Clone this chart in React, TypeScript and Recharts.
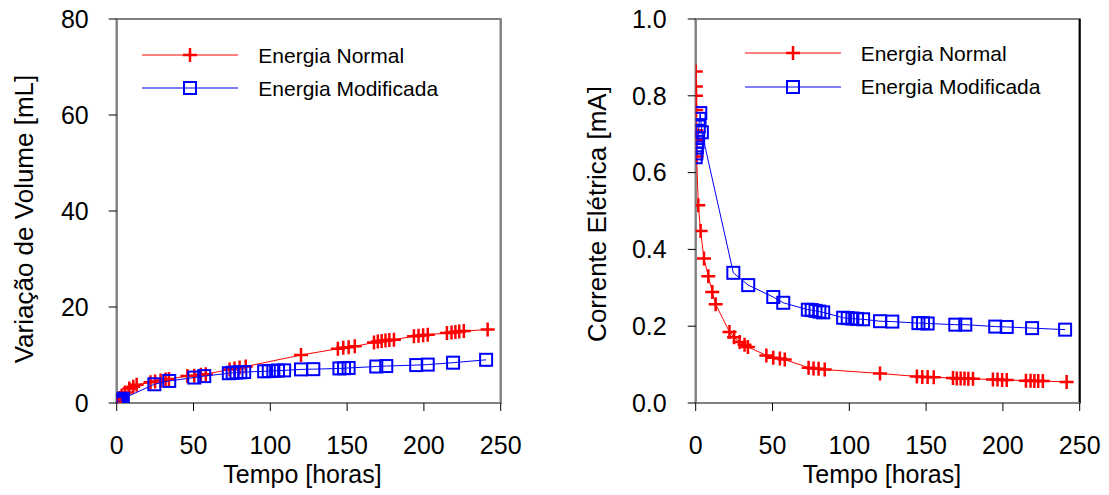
import React from "react";
import {
  ScatterChart,
  Scatter,
  XAxis,
  YAxis,
  ReferenceArea,
  ReferenceLine,
} from "recharts";

// ---- Data ----
const normalTime = [
  0, 0.1, 0.2, 0.3, 0.4, 0.5, 0.6, 1.7, 3.2, 5.4, 8.2, 10.8, 13, 22, 25, 28.6,
  31.8, 34, 46, 50.5, 54.8, 58, 73.5, 76.7, 80, 84, 120, 144, 147.5, 151, 155,
  167.5, 170, 172.5, 175, 177.5, 180.5, 193.5, 196.5, 199.5, 202.5, 215, 218,
  220.5, 223, 226, 241.5,
];
const normalVolume = [
  0, 0.1, 0.2, 0.3, 0.4, 0.5, 0.6, 1.0, 1.5, 2.2, 3.0, 3.4, 3.8, 4.3, 4.5, 4.7,
  4.9, 5.0, 5.6, 5.7, 5.9, 6.0, 7.0, 7.2, 7.4, 7.6, 10.0, 11.3, 11.5, 11.6,
  11.8, 12.6, 12.8, 12.9, 13.0, 13.1, 13.2, 13.9, 14.0, 14.1, 14.2, 14.6, 14.7,
  14.8, 14.9, 15.0, 15.3,
];
const normalCurrent = [
  0.863, 0.824, 0.8, 0.763, 0.71, 0.685, 0.642, 0.515, 0.448, 0.376, 0.33,
  0.289, 0.257, 0.185, 0.171, 0.159, 0.152, 0.146, 0.124, 0.118, 0.116, 0.113,
  0.092, 0.09, 0.089, 0.087, 0.077, 0.069, 0.068, 0.068, 0.067, 0.065, 0.064,
  0.064, 0.064, 0.063, 0.063, 0.061, 0.061, 0.06, 0.06, 0.058, 0.058, 0.057,
  0.057, 0.057, 0.055,
];
const modTime = [
  0, 0.4, 0.8, 1.2, 1.6, 2, 2.5, 3, 4, 24.5, 34.2, 50.5, 57, 73, 75.5, 78, 80.5,
  83, 96, 99, 102, 105, 109, 120, 128, 145, 148, 151, 169, 175.5, 195, 202.5,
  219, 240.5,
];
const modVolume = [
  0, 0.1, 0.2, 0.3, 0.4, 0.5, 0.6, 0.7, 0.9, 3.9, 4.6, 5.3, 5.6, 6.2, 6.3,
  6.35, 6.4, 6.45, 6.6, 6.65, 6.7, 6.75, 6.8, 7.0, 7.05, 7.2, 7.25, 7.3, 7.6,
  7.7, 7.9, 8.0, 8.4, 9.0,
];
const modCurrent = [
  0.64, 0.65, 0.665, 0.68, 0.69, 0.72, 0.74, 0.755, 0.705, 0.339, 0.307, 0.276,
  0.261, 0.243, 0.242, 0.24, 0.238, 0.236, 0.222, 0.221, 0.22, 0.219, 0.218,
  0.213, 0.212, 0.208, 0.208, 0.207, 0.204, 0.204, 0.199, 0.198, 0.195, 0.191,
];

const xTicks = [0, 50, 100, 150, 200, 250];
const volumeTicks = [0, 20, 40, 60, 80];
const currentTicks = [0, 0.2, 0.4, 0.6, 0.8, 1.0];

const seriesNames = ["Energia Normal", "Energia Modificada"];
const xTitle = "Tempo [horas]";
const volumeTitle = "Variação de Volume [mL]";
const currentTitle = "Corrente Elétrica [mA]";

const RED = "#ff0000";
const BLUE = "#0000ff";
const FONT = "'Liberation Sans', Arial, sans-serif";

const toPoints = (xs: number[], ys: number[]) =>
  xs.map((x, i) => ({ x, y: ys[i] }));

const PlusShape = (props: any) => {
  const { cx, cy } = props;
  if (cx == null || cy == null) return null;
  const a = 7;
  return (
    <path
      d={`M${cx - a},${cy}H${cx + a}M${cx},${cy - a}V${cy + a}`}
      stroke={RED}
      strokeWidth={2.5}
      fill="none"
    />
  );
};

const SquareShape = (props: any) => {
  const { cx, cy } = props;
  if (cx == null || cy == null) return null;
  const s = 6;
  return (
    <rect
      x={cx - s}
      y={cy - s}
      width={2 * s}
      height={2 * s}
      stroke={BLUE}
      strokeWidth={2}
      fill="none"
    />
  );
};

const tickStyle = { fill: "#000", fontSize: 25, fontFamily: FONT };

type PanelProps = {
  left: number;
  width: number;
  marginLeft: number;
  marginRight: number;
  yMax: number;
  yTicks: number[];
  yFormat: (v: number) => string;
  normal: { x: number; y: number }[];
  mod: { x: number; y: number }[];
  yTickMargin: number;
  rightBorder: string;
};

const Panel = (p: PanelProps) => (
  <div style={{ position: "absolute", left: p.left, top: 0 }}>
    <ScatterChart
      width={p.width}
      height={495}
      margin={{ top: 19, right: p.marginRight, bottom: 32, left: p.marginLeft }}
    >
      <XAxis
        type="number"
        dataKey="x"
        domain={[0, 250]}
        ticks={xTicks}
        interval={0}
        height={60}
        tickSize={8}
        tickMargin={25}
        tick={tickStyle}
        tickLine={{ stroke: "#000", strokeWidth: 1 }}
        axisLine={{ stroke: "#808080", strokeWidth: 2 }}
        allowDataOverflow
      />
      <YAxis
        type="number"
        dataKey="y"
        domain={[0, p.yMax]}
        ticks={p.yTicks}
        interval={0}
        width={60}
        tickSize={8}
        tickMargin={p.yTickMargin}
        tick={tickStyle}
        tickFormatter={p.yFormat}
        tickLine={{ stroke: "#000", strokeWidth: 1 }}
        axisLine={{ stroke: "#808080", strokeWidth: 2 }}
        allowDataOverflow
      />
      <ReferenceArea
        x1={0}
        x2={250}
        y1={0}
        y2={p.yMax}
        fill="none"
        fillOpacity={0}
        stroke="#808080"
        strokeWidth={2}
        ifOverflow="visible"
      />
      <ReferenceLine
        x={250}
        stroke={p.rightBorder}
        strokeWidth={2}
        ifOverflow="visible"
      />
      <Scatter
        name={seriesNames[0]}
        data={p.normal}
        line={{ stroke: RED, strokeWidth: 1 }}
        lineType="joint"
        shape={PlusShape}
        isAnimationActive={false}
      />
      <Scatter
        name={seriesNames[1]}
        data={p.mod}
        line={{ stroke: BLUE, strokeWidth: 1 }}
        lineType="joint"
        shape={SquareShape}
        isAnimationActive={false}
      />
    </ScatterChart>
  </div>
);

const LegendBlock = ({
  lineLeft,
  textLeft,
  y1,
  y2,
}: {
  lineLeft: number;
  textLeft: number;
  y1: number;
  y2: number;
}) => {
  const w = 96;
  const rows = [
    { y: y1, color: RED, name: seriesNames[0], marker: "plus" },
    { y: y2, color: BLUE, name: seriesNames[1], marker: "square" },
  ];
  return (
    <>
      {rows.map((r) => (
        <React.Fragment key={r.name}>
          <svg
            width={w}
            height={20}
            style={{ position: "absolute", left: lineLeft, top: r.y - 10 }}
          >
            <line x1={0} x2={w} y1={10} y2={10} stroke={r.color} strokeWidth={1} />
            {r.marker === "plus" ? (
              <path
                d={`M${w / 2 - 7},10H${w / 2 + 7}M${w / 2},3V17`}
                stroke={RED}
                strokeWidth={2.5}
              />
            ) : (
              <rect
                x={w / 2 - 6}
                y={4}
                width={12}
                height={12}
                stroke={BLUE}
                strokeWidth={2}
                fill="none"
              />
            )}
          </svg>
          <div
            style={{
              position: "absolute",
              left: textLeft,
              top: r.y - 10.5,
              fontFamily: FONT,
              fontSize: 21,
              lineHeight: "21px",
              whiteSpace: "nowrap",
              color: "#000",
            }}
          >
            {r.name}
          </div>
        </React.Fragment>
      ))}
    </>
  );
};

const titleBase: React.CSSProperties = {
  position: "absolute",
  fontFamily: FONT,
  fontSize: 26,
  lineHeight: "20px",
  whiteSpace: "nowrap",
  color: "#000",
};

const xTitleStyle: React.CSSProperties = {
  ...titleBase,
  fontSize: 25,
  top: 464.2,
  transform: "translateX(-50%)",
};

export default function App() {
  const volNormal = toPoints(normalTime, normalVolume);
  const volMod = toPoints(modTime, modVolume);
  const curNormal = toPoints(normalTime, normalCurrent);
  const curMod = toPoints(modTime, modCurrent);
  return (
    <div
      style={{
        position: "absolute",
        left: 0,
        top: 0,
        width: 1109,
        height: 495,
        background: "#fff",
        overflow: "hidden",
      }}
    >
      <Panel
        left={0}
        width={560}
        marginLeft={56.7}
        marginRight={59.3}
        yMax={80}
        yTicks={volumeTicks}
        yFormat={(v) => String(v)}
        normal={volNormal}
        mod={volMod}
        yTickMargin={20}
        rightBorder="#808080"
      />
      <Panel
        left={560}
        width={549}
        marginLeft={75.7}
        marginRight={29.3}
        yMax={1}
        yTicks={currentTicks}
        yFormat={(v) => v.toFixed(1)}
        normal={curNormal}
        mod={curMod}
        yTickMargin={21}
        rightBorder="#000"
      />
      <LegendBlock lineLeft={141.7} textLeft={258.3} y1={55} y2={88.3} />
      <LegendBlock lineLeft={745} textLeft={860.7} y1={53.3} y2={86.7} />
      <div style={{ ...xTitleStyle, left: 302.5 }}>{xTitle}</div>
      <div style={{ ...xTitleStyle, left: 882 }}>{xTitle}</div>
      <div
        style={{
          ...titleBase,
          left: 23.8,
          top: 218.5,
          transform: "translate(-50%, -50%) rotate(-90deg)",
        }}
      >
        {volumeTitle}
      </div>
      <div
        style={{
          ...titleBase,
          left: 597,
          top: 214.2,
          transform: "translate(-50%, -50%) rotate(-90deg)",
        }}
      >
        {currentTitle}
      </div>
    </div>
  );
}
